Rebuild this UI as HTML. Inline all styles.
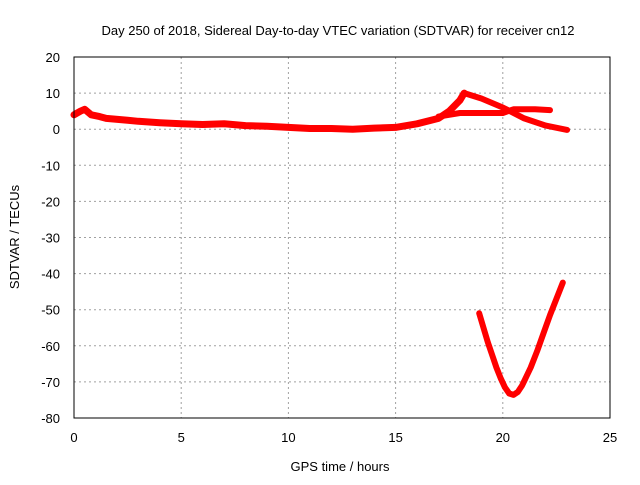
<!DOCTYPE html>
<html><head><meta charset="utf-8"><style>
body{margin:0;background:#fff}
svg{font-family:"Liberation Sans",sans-serif;font-size:13px}
</style></head><body>
<svg id="chart" width="640" height="480" viewBox="0 0 640 480">
<rect width="640" height="480" fill="#fff"/>
<g id="grid"></g>
<g id="ticks"></g>
<g id="series"></g>
<rect x="74" y="57" width="536" height="361" fill="none" stroke="#000" stroke-width="1"/>
<text x="338" y="35" text-anchor="middle">Day 250 of 2018, Sidereal Day-to-day VTEC variation (SDTVAR) for receiver cn12</text>
<text x="340" y="471" text-anchor="middle">GPS time / hours</text>
<text transform="translate(19,237) rotate(-90)" text-anchor="middle">SDTVAR / TECUs</text>
</svg>
<script>
const xTicks=[0,5,10,15,20,25];
const yTicks=[20,10,0,-10,-20,-30,-40,-50,-60,-70,-80];
const mainT=[0,0.3,0.5,0.8,1.2,1.5,2.5,3,4,5,6,7,8,9,10,11,12,13,14,15,16,17,17.5,18,18.2];
const mainV=[4,5,5.5,4,3.5,3,2.5,2.2,1.8,1.5,1.3,1.5,1,0.8,0.5,0.2,0.2,0,0.3,0.5,1.5,3,5,8,10];
const downT=[18.2,19,20,21,22,23];
const downV=[10,8.5,6,3,1,-0.2];
const flatT=[17,18,19,20,20.5,21.5,22.2];
const flatV=[3.5,4.5,4.5,4.5,5.5,5.5,5.3];
const vT=[18.9,19.1,19.3,19.5,19.7,19.9,20.1,20.3,20.5,20.7,20.9,21.1,21.3,21.6,21.9,22.2,22.5,22.8];
const vV=[-51,-55,-59,-62.5,-66,-69,-71.5,-73.2,-73.6,-72.8,-71,-68.5,-66,-61.5,-56.5,-51.5,-47,-42.5];
const NS="http://www.w3.org/2000/svg";
const X=t=>74+t*536/25;
const Y=v=>57+(20-v)*361/100;
function mk(tag,attrs,parent){const e=document.createElementNS(NS,tag);for(const k in attrs)e.setAttribute(k,attrs[k]);document.getElementById(parent).appendChild(e);return e;}
xTicks.forEach(t=>{
 if(t>0&&t<25){const g=mk('line',{x1:X(t),x2:X(t),y1:57,y2:418,stroke:'#a0a0a0','stroke-dasharray':'2,3'},'grid');
 
 }
 const l=mk('text',{x:X(t),y:442,'text-anchor':'middle'},'ticks');l.textContent=t;
 
 
});
yTicks.forEach(v=>{
 if(v<20&&v>-80){const g=mk('line',{x1:74,x2:610,y1:Y(v),y2:Y(v),stroke:'#a0a0a0','stroke-dasharray':'2,3'},'grid');
 
 }
 const l=mk('text',{x:60,y:Y(v)+5,'text-anchor':'end'},'ticks');l.textContent=v;
 
 
});
function line(ts,vs,name,w){
 const p=ts.map((t,i)=>X(t).toFixed(1)+','+Y(vs[i]).toFixed(1)).join(' ');
 const e=mk('polyline',{points:p,fill:'none',stroke:'#ff0000','stroke-width':w,'stroke-linejoin':'round','stroke-linecap':'round'},'series');
 
 
}
line(mainT,mainV,'series-main',7);
line(downT,downV,'series-descending-branch',6);
line(flatT,flatV,'series-flat-branch',6);
line(vT,vV,'series-v-dip',6);
</script>
</body></html>
